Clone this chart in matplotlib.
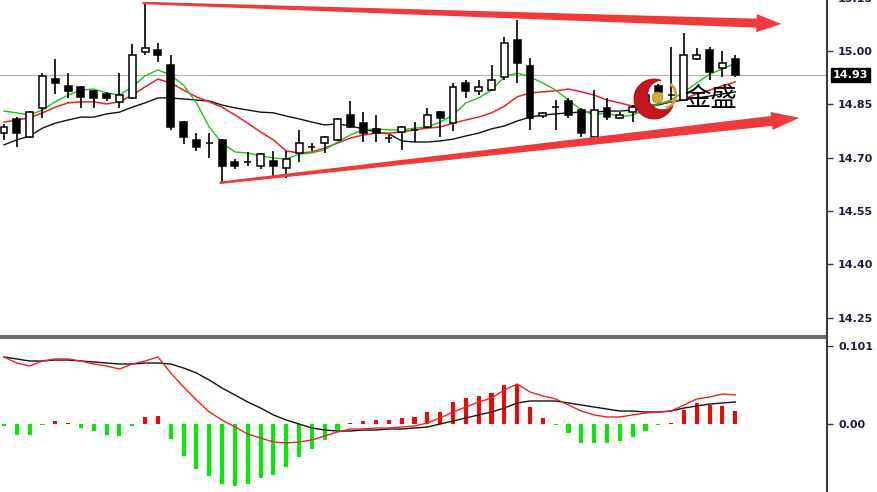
import numpy as np
import matplotlib
matplotlib.use('Agg')
from matplotlib import pyplot as plt
from matplotlib.patches import Rectangle, Polygon, Circle, Wedge

# bars, oldest first
opens = [14.769, 14.809, 14.758, 14.840, 14.921, 14.902, 14.899, 14.887, 14.879, 14.857,
         14.868, 14.997, 15.003, 14.961, 14.800, 14.750, 14.742, 14.750, 14.688, 14.689,
         14.677, 14.691, 14.671, 14.713, 14.731, 14.741, 14.750, 14.820, 14.797, 14.781,
         14.756, 14.772, 14.779, 14.786, 14.828, 14.797, 14.910, 14.887, 14.890, 14.927,
         15.031, 14.958, 14.817, 14.843, 14.859, 14.834, 14.758, 14.840, 14.812, 14.828,
         14.845, 14.902, 14.877, 14.862, 14.977, 15.003, 14.952, 14.977]
highs = [14.795, 14.814, 14.830, 14.938, 14.977, 14.938, 14.901, 14.889, 14.885, 14.938,
         15.020, 15.135, 15.023, 14.989, 14.802, 14.769, 14.769, 14.752, 14.696, 14.716,
         14.712, 14.719, 14.719, 14.778, 14.741, 14.760, 14.811, 14.859, 14.828, 14.820,
         14.764, 14.788, 14.800, 14.840, 14.830, 14.910, 14.918, 14.918, 14.961, 15.039,
         15.087, 14.980, 14.827, 14.862, 14.868, 14.840, 14.890, 14.868, 14.828, 14.848,
         14.885, 14.907, 15.011, 15.051, 15.008, 15.011, 15.000, 14.989]
lows = [14.750, 14.730, 14.755, 14.812, 14.879, 14.868, 14.840, 14.840, 14.859, 14.840,
        14.866, 14.989, 14.969, 14.778, 14.738, 14.719, 14.699, 14.629, 14.668, 14.677,
        14.668, 14.646, 14.643, 14.688, 14.719, 14.713, 14.748, 14.784, 14.744, 14.744,
        14.741, 14.722, 14.744, 14.784, 14.758, 14.775, 14.868, 14.876, 14.888, 14.918,
        14.910, 14.778, 14.812, 14.778, 14.812, 14.758, 14.756, 14.806, 14.810, 14.800,
        14.840, 14.862, 14.862, 14.860, 14.975, 14.918, 14.927, 14.927]
closes = [14.786, 14.769, 14.828, 14.930, 14.910, 14.887, 14.871, 14.868, 14.868, 14.876,
          14.989, 15.008, 14.989, 14.786, 14.758, 14.730, 14.741, 14.677, 14.677, 14.688,
          14.710, 14.677, 14.696, 14.741, 14.730, 14.758, 14.809, 14.786, 14.769, 14.769,
          14.755, 14.786, 14.778, 14.820, 14.812, 14.899, 14.887, 14.899, 14.918, 15.023,
          14.966, 14.812, 14.826, 14.842, 14.820, 14.769, 14.834, 14.814, 14.820, 14.842,
          14.876, 14.885, 14.876, 14.989, 14.989, 14.941, 14.966, 14.932]

# moving averages (green / red / black)
maFast = [14.831, 14.826, 14.820, 14.834, 14.857, 14.876, 14.890, 14.893, 14.882, 14.876,
          14.899, 14.930, 14.947, 14.932, 14.904, 14.854, 14.786, 14.741, 14.716, 14.713,
          14.705, 14.699, 14.696, 14.710, 14.713, 14.722, 14.744, 14.764, 14.778, 14.781,
          14.778, 14.778, 14.783, 14.786, 14.800, 14.820, 14.854, 14.868, 14.890, 14.927,
          14.938, 14.927, 14.910, 14.890, 14.862, 14.834, 14.820, 14.826, 14.814, 14.820,
          14.834, 14.851, 14.862, 14.885, 14.910, 14.935, 14.949, 14.966]
maMid = [14.800, 14.806, 14.812, 14.826, 14.842, 14.854, 14.857, 14.857, 14.851, 14.857,
         14.876, 14.899, 14.921, 14.910, 14.890, 14.871, 14.857, 14.842, 14.820, 14.797,
         14.772, 14.750, 14.719, 14.713, 14.716, 14.727, 14.741, 14.755, 14.764, 14.769,
         14.769, 14.772, 14.778, 14.783, 14.786, 14.797, 14.806, 14.814, 14.826, 14.845,
         14.871, 14.882, 14.885, 14.888, 14.893, 14.885, 14.876, 14.862, 14.854, 14.845,
         14.845, 14.851, 14.857, 14.865, 14.879, 14.890, 14.902, 14.913]
maSlow = [14.736, 14.750, 14.761, 14.783, 14.797, 14.806, 14.814, 14.814, 14.823, 14.828,
          14.842, 14.854, 14.868, 14.868, 14.865, 14.862, 14.859, 14.848, 14.840, 14.834,
          14.828, 14.826, 14.817, 14.809, 14.800, 14.792, 14.795, 14.789, 14.781, 14.772,
          14.767, 14.747, 14.744, 14.744, 14.747, 14.752, 14.761, 14.769, 14.781, 14.789,
          14.803, 14.814, 14.820, 14.823, 14.826, 14.828, 14.828, 14.831, 14.831, 14.834,
          14.840, 14.848, 14.857, 14.862, 14.868, 14.873, 14.879, 14.885]

# MACD panel
macdMain = [0.0868, 0.0790, 0.0751, 0.0816, 0.0842, 0.0842, 0.0816, 0.0777, 0.0751, 0.0712,
            0.0777, 0.0816, 0.0868, 0.0661, 0.0479, 0.0311, 0.0155, 0.0052, -0.0039, -0.0130,
            -0.0181, -0.0233, -0.0246, -0.0233, -0.0207, -0.0155, -0.0104, -0.0065, -0.0065, -0.0052,
            -0.0052, -0.0039, -0.0026, 0.0013, 0.0078, 0.0155, 0.0220, 0.0285, 0.0337, 0.0440,
            0.0518, 0.0415, 0.0363, 0.0324, 0.0246, 0.0168, 0.0117, 0.0091, 0.0091, 0.0117,
            0.0142, 0.0155, 0.0168, 0.0246, 0.0324, 0.0350, 0.0389, 0.0376]
macdSignal = [0.0868, 0.0842, 0.0816, 0.0816, 0.0829, 0.0829, 0.0816, 0.0803, 0.0790, 0.0777,
              0.0777, 0.0790, 0.0790, 0.0777, 0.0725, 0.0661, 0.0570, 0.0466, 0.0376, 0.0285,
              0.0207, 0.0117, 0.0052, 0.0000, -0.0052, -0.0078, -0.0091, -0.0091, -0.0078, -0.0078,
              -0.0065, -0.0065, -0.0052, -0.0039, 0.0000, 0.0039, 0.0078, 0.0117, 0.0155, 0.0207,
              0.0272, 0.0298, 0.0298, 0.0298, 0.0272, 0.0246, 0.0220, 0.0194, 0.0168, 0.0168,
              0.0155, 0.0155, 0.0168, 0.0207, 0.0233, 0.0259, 0.0272, 0.0285]
macdHist = [-0.003, -0.014, -0.014, -0.001, 0.004, 0.001, -0.005, -0.009, -0.014, -0.016,
            -0.003, 0.009, 0.010, -0.019, -0.041, -0.058, -0.067, -0.078, -0.080, -0.078,
            -0.070, -0.066, -0.056, -0.043, -0.032, -0.021, -0.008, 0.001, 0.004, 0.005,
            0.005, 0.008, 0.009, 0.016, 0.016, 0.028, 0.034, 0.036, 0.040, 0.051,
            0.051, 0.022, 0.008, -0.001, -0.012, -0.025, -0.025, -0.025, -0.022, -0.017,
            -0.009, -0.001, 0.001, 0.018, 0.027, 0.025, 0.023, 0.017]

priceTicks = [15.15, 15.00, 14.85, 14.70, 14.55, 14.40, 14.25]
macdTicks = [0.101, 0.0]
macdTickLabels = ['0.101', '0.00']

# hand-drawn trend arrows (bar index, price)
trendUpX = [10.8, 60.6]
trendUpY = [15.135, 15.076]
trendDnX = [16.8, 62.0]
trendDnY = [14.629, 14.812]

labelColor = '#1c1c3c'
axisColor = '#3c3c3c'

fig = plt.figure(figsize=(8.78, 4.92), dpi=100, facecolor='white')
ax = fig.add_axes([0, 156 / 492, 827 / 878, 342 / 492])
ax2 = fig.add_axes([0, 0, 827 / 878, 154 / 492])

x = np.arange(len(opens))
ax.set_xlim(-0.31, 64.15)
ax.set_ylim(14.1983, 15.1603)
ax2.set_xlim(-0.31, 64.15)
ax2.set_ylim(-0.0881, 0.1114)

# last price line
ax.axhline(closes[-1], color='#b4b4b4', lw=0.9, zorder=1)

ax.plot(x, maSlow, color='#111111', lw=1.0, zorder=2)
ax.plot(x, maMid, color='#ee2222', lw=1.1, zorder=2)
ax.plot(x, maFast, color='#22c022', lw=1.0, zorder=2)

bodyW = 0.54
for i in x:
    ax.vlines(i, lows[i], highs[i], color='black', lw=1.2, zorder=3)
    lo = min(opens[i], closes[i])
    hi = max(opens[i], closes[i])
    face = 'white' if closes[i] >= opens[i] else 'black'
    ax.add_patch(Rectangle((i - bodyW / 2, lo), bodyW, hi - lo, facecolor=face,
                           edgecolor='black', lw=1.1, zorder=4))

for s in ['left', 'top']:
    ax.spines[s].set_visible(False)
ax.spines['right'].set_color(axisColor)
ax.spines['right'].set_linewidth(1.5)
ax.spines['bottom'].set_color('#505050')
ax.spines['bottom'].set_linewidth(1.2)
ax.set_xticks([])
ax.yaxis.tick_right()
ax.set_yticks(priceTicks)
ax.set_yticklabels(['%.2f' % t for t in priceTicks], fontweight='bold')
ax.tick_params(axis='y', direction='out', length=4, width=1, color=axisColor,
               labelcolor=labelColor, labelsize=8, pad=4)

ax.text(1.007, closes[-1], '%.2f' % closes[-1], transform=ax.get_yaxis_transform(),
        color='white', fontsize=8, fontweight='bold', va='center', ha='left', clip_on=False,
        bbox=dict(boxstyle='square,pad=0.15', fc='black', ec='black'))

# MACD
histColors = ['#ff0000' if v >= 0 else '#00ee00' for v in macdHist]
ax2.bar(x, macdHist, width=0.32, color=histColors, zorder=2)
ax2.plot(x, macdSignal, color='#111111', lw=1.0, zorder=3)
ax2.plot(x, macdMain, color='#ee2222', lw=1.0, zorder=3)
for s in ['left', 'bottom']:
    ax2.spines[s].set_visible(False)
ax2.spines['right'].set_color(axisColor)
ax2.spines['right'].set_linewidth(1.5)
ax2.spines['top'].set_color('#505050')
ax2.spines['top'].set_linewidth(1.2)
ax2.set_xticks([])
ax2.yaxis.tick_right()
ax2.set_yticks(macdTicks)
ax2.set_yticklabels(macdTickLabels, fontweight='bold')
ax2.tick_params(axis='y', direction='out', length=4, width=1, color=axisColor,
                labelcolor=labelColor, labelsize=8, pad=4)


def draw_arrow(axis, xs, ys, w0, w1, headW, headL, color):
    pts = axis.transData.transform(np.column_stack([xs, ys]))
    p0, p1 = pts[0], pts[1]
    d = p1 - p0
    u = d / np.hypot(d[0], d[1])
    n = np.array([-u[1], u[0]])
    base = p1 - u * headL
    poly = [p0 + n * w0 / 2, base + n * w1 / 2, base + n * headW / 2, p1,
            base - n * headW / 2, base - n * w1 / 2, p0 - n * w0 / 2]
    poly = axis.transData.inverted().transform(np.array(poly))
    axis.add_patch(Polygon(poly, closed=True, facecolor=color, edgecolor='none',
                           zorder=6, clip_on=False))


draw_arrow(ax, trendUpX, trendUpY, 2.5, 9, 18, 25, '#ee3a3a')
draw_arrow(ax, trendDnX, trendDnY, 2.5, 10, 18, 28, '#ee3a3a')

# logo
lax = fig.add_axes([629 / 878, (492 - 124) / 492, 50 / 878, 50 / 492])
lax.set_xlim(-1.25, 1.25)
lax.set_ylim(-1.25, 1.25)
lax.axis('off')
t = np.linspace(0, 2 * np.pi, 400)
cx, cy, r = 0.42, 0.2, 0.74
outer = np.column_stack([np.cos(t), np.sin(t)])
keepO = (outer[:, 0] - cx) ** 2 + (outer[:, 1] - cy) ** 2 > r ** 2
inner = np.column_stack([cx + r * np.cos(t), cy + r * np.sin(t)])
keepI = inner[:, 0] ** 2 + inner[:, 1] ** 2 < 1
crescent = np.vstack([outer[keepO], inner[keepI][::-1]])
lax.add_patch(Polygon(crescent, closed=True, facecolor='#c4161c', edgecolor='#9a0e12', lw=0.6))
lax.add_patch(Wedge((cx, cy), r, -75, 55, width=0.13, facecolor='#c9a02c', edgecolor='none'))
lax.add_patch(Circle((0.18, 0.08), 0.27, facecolor='#d2ae36', edgecolor='#a8861e', lw=0.5))

fig.text(684 / 878, (492 - 99) / 492, '金盛', fontsize=19, color='black', va='center', ha='left',
         family=['Noto Sans CJK SC', 'DejaVu Sans'])

fig.savefig('out.png', dpi=100, facecolor='white')
